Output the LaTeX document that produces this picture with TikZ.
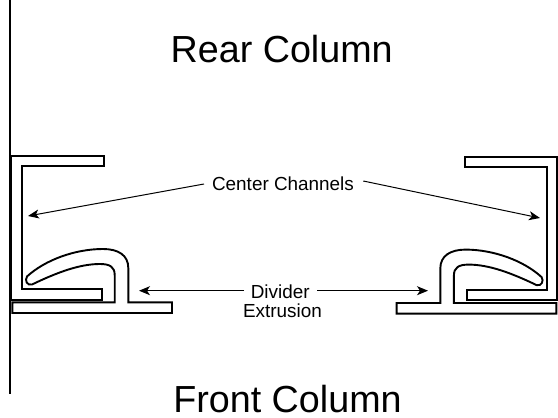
\documentclass[tikz,border=0pt]{standalone}
\usepackage{fontspec}
\setmainfont{Liberation Sans}
\usetikzlibrary{arrows.meta}
\tikzset{
  part/.style={draw=black,line width=1.9pt,line join=miter,fill=none},
  lead/.style={draw=black,line width=1pt,-{Stealth[length=11pt,width=9pt,inset=3pt]}},
  title/.style={font=\fontsize{37.7pt}{40pt}\selectfont,inner sep=0pt,anchor=base},
  label/.style={font=\fontsize{18.9pt}{20pt}\selectfont,inner sep=0pt,anchor=base},
}
\newcommand{\assembly}{%
  \draw[part] (104,156) -- (11.5,156) -- (11.5,299.7) -- (101.7,299.7) -- (101.7,289) -- (22,289) -- (22,166) -- (104,166) -- cycle;
  \draw[part] (12.3,302.4) -- (114.7,302.4) -- (114.7,275)
    .. controls (114.7,267) and (110,264) .. (100,264)
    .. controls (80,264) and (58,272) .. (32,284.5)
    .. controls (27,286) and (24.5,280) .. (27,276.5)
    .. controls (45,260) and (75,249) .. (103,249)
    .. controls (118,249) and (128.3,255) .. (128.3,268)
    -- (128.3,302.4) -- (172,302.4) -- (172,313) -- (12.3,313) -- cycle;
}
\begin{document}
\begin{tikzpicture}[x=1pt,y=-1pt]
\useasboundingbox (0,0) rectangle (558,418);
\draw[line width=2pt] (9.6,0) -- (9.6,394);
\assembly
\begin{scope}[shift={(568.6,0.6)},xscale=-1]
\assembly
\end{scope}
\node[title] (rear) at (281.7,62.7) {Rear Column};
\node[title] (front) at (287.5,412.7) {Front Column};
\node[label] (cc) at (283,190) {Center Channels};
\node[label] (div) at (280.2,298.3) {Divider};
\node[label] (ext) at (282.5,317) {Extrusion};
\coordinate (ccl) at (28,216);
\coordinate (ccr) at (540,218);
\coordinate (ccla) at (204,184);
\coordinate (ccra) at (363.3,181);
\coordinate (dla) at (244,290.7);
\coordinate (dra) at (317.3,290.7);
\coordinate (dl) at (139,290.7);
\coordinate (dr) at (428,290.7);
\draw[lead] (ccla) -- (ccl);
\draw[lead] (ccra) -- (ccr);
\draw[lead] (dla) -- (dl);
\draw[lead] (dra) -- (dr);
\end{tikzpicture}
\end{document}
